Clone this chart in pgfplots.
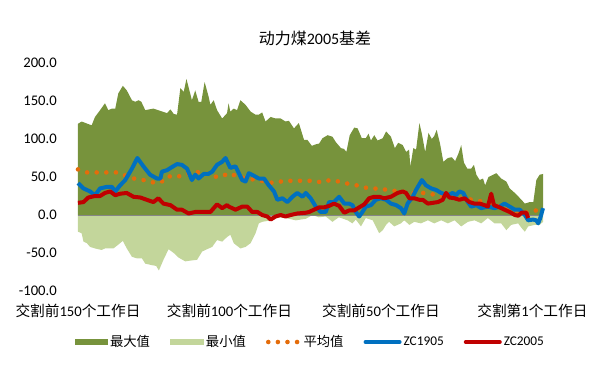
\documentclass[border=0pt]{standalone}
\usepackage{fontspec}
\setmainfont{Carlito}
\newfontfamily\cjk{Noto Sans CJK SC}
\usepackage{pgfplots}
\pgfplotsset{compat=1.18}
\definecolor{maxg}{RGB}{119,147,60}
\definecolor{ming}{RGB}{195,214,155}
\definecolor{avgo}{RGB}{228,108,10}
\definecolor{zcb}{RGB}{0,112,192}
\definecolor{zcr}{RGB}{192,0,0}
\definecolor{zerog}{RGB}{134,134,134}
\begin{document}
\begin{tikzpicture}
\path[use as bounding box] (-78pt,-87pt) rectangle (526pt,291pt);
\begin{axis}[
 scale only axis, width=465pt, height=228pt,
 xmin=0, xmax=153.5, ymin=-100, ymax=200,
 axis line style={draw=none},
 major tick length=0pt,
 xtick={0,50,100,150},
 xticklabels={{\cjk 交割前}150{\cjk 个工作日},{\cjk 交割前}100{\cjk 个工作日},{\cjk 交割前}50{\cjk 个工作日},{\cjk 交割第}1{\cjk 个工作日}},
 ytick={-100,-50,0,50,100,150,200},
 yticklabels={-100.0,-50.0,0.0,50.0,100.0,150.0,200.0},
 tick label style={font=\fontsize{14.67}{17}\selectfont, inner sep=0pt},
 xticklabel style={anchor=center, yshift=-19.5pt},
 yticklabel style={anchor=east, xshift=-21pt},
 clip=false,
 legend columns=5,
 legend style={at={(0.5,-0.2237)}, anchor=center, draw=none, fill=none,
   font=\fontsize{13.33}{15}\selectfont, cells={anchor=west},
   /tikz/every even column/.append style={column sep=18pt}},
]
\addplot[fill=maxg, draw=none, legend image code/.code={\fill[maxg] (0pt,-3pt) rectangle (33pt,3pt);}] coordinates {
(0,0) (0,120) (1.2,123) (4.5,118) (5.6,129) (7.3,138) (8.9,147) (10,138) (11.2,140) (12.3,140) (13.3,160) (14.8,170) (16.1,164) (17.8,151) (18.9,149) (20,151) (20.9,149) (22.2,138) (24.9,140) (27.2,137) (29.4,134) (30.5,139) (31.6,133) (32.7,132) (33.8,167) (34.9,162) (35.8,179) (36.9,162) (37.6,151) (38.7,164) (39.8,149) (40.7,149) (41.8,175) (43.1,156) (43.7,145) (44.8,151) (45.9,138) (47.6,127) (49.2,134) (49.7,147) (50.3,136) (51.4,140) (52.5,138) (53.6,151) (55.3,145) (57,136) (58.6,132) (59.7,132) (60.8,135) (61.9,123) (63.6,129) (65.2,127) (66.9,127) (68.5,123) (69.6,124) (71.3,114) (72.9,121) (74.6,99) (75.7,99) (77.2,91) (78.5,93) (79.6,94) (80.7,101) (82.4,105) (84,103) (85.1,96) (86.8,88) (87.8,87) (88.6,83) (89.7,105) (91.2,115) (92.3,114) (93.7,101) (95,101) (95.9,107) (96.7,98) (97.8,105) (98.9,98) (100.6,101) (101.7,110) (103.3,103) (104.6,88) (105.7,95) (107.2,92) (108.3,83) (109.3,86) (109.7,64) (110.7,88) (111.6,86) (112.7,121) (113.5,107) (114.6,83) (115.7,108) (116.8,100) (117.6,104) (118.4,112) (119.5,94) (120.6,70) (122.1,75) (123.4,76) (124.5,71) (125.6,81) (126.5,92) (127.4,69) (128.5,61) (129.8,61) (130.7,66) (131.5,53) (132.6,46) (133.7,48) (134.4,39) (135.5,50) (138.1,55) (139.7,48) (141.4,44) (142.5,35) (144.2,29) (146.4,20) (147.5,15) (149.1,17) (150.3,17) (151.3,46) (152.4,53) (153.5,54) (153.5,0)
} \closedcycle;
\addlegendentry{{\cjk 最大值}}
\addplot[fill=ming, draw=none, legend image code/.code={\fill[ming] (0pt,-3pt) rectangle (34pt,3pt);}] coordinates {
(0,0) (0,-22) (1.2,-24) (1.8,-35) (2.9,-37) (4,-42) (5.6,-44) (7.8,-46) (8.9,-44) (10,-44) (11.7,-44) (13.3,-39) (14.8,-34) (16.1,-44) (17.8,-55) (19.4,-57) (21.1,-57) (22.2,-64) (24.4,-66) (25.8,-67) (26.7,-73) (28.2,-59) (29.9,-45) (31.6,-50) (33.2,-56) (35.4,-61) (37.1,-60) (39.3,-59) (41,-48) (42.6,-45) (44.3,-42) (45.9,-33) (47.6,-35) (49.2,-29) (50.3,-26) (51.4,-37) (53.6,-44) (55.3,-42) (57,-37) (58.6,-24) (59.7,-11) (60.8,-9) (63.6,-7) (66.2,-3) (68.5,-4) (71.9,-7) (75.2,-5) (77.4,0) (79.5,-3) (81.8,-2) (84,-9) (86.1,-3) (89,-7) (90.6,-11) (91.7,-6) (93.4,-15) (95,-4) (97.3,-7) (99.4,-24) (100.6,-20) (101.7,-13) (102.7,-9) (104.4,-15) (106.6,-11) (107.7,-7) (109.4,-13) (111,-9) (113.2,-11) (115.5,-7) (117.6,-11) (119.9,-7) (122.1,-11) (124.3,-7) (126.5,-15) (128.7,-9) (130.9,-7) (133.1,-11) (135.3,-4) (137.5,-11) (139.7,-11) (141.4,-20) (143,-13) (145.3,-11) (146.4,-17) (147.5,-22) (148.6,-15) (150.8,-13) (152.4,-13) (153.5,-9) (153.5,0)
} \closedcycle;
\addlegendentry{{\cjk 最小值}}
\addplot[zerog, line width=1pt, forget plot] coordinates {(0,0) (153.5,0)};
\addplot[avgo, line width=4.6pt, line cap=round, dash pattern=on 0pt off 9.6pt,
  legend image code/.code={\draw[avgo, line width=4.6pt, line cap=round, dash pattern=on 0pt off 9.6pt] (2pt,0pt) -- (33pt,0pt);}] coordinates {
(0,60) (3,56) (6.3,56) (9.6,56) (12.7,56) (15.6,52) (18.5,48) (21.6,46) (24.7,43) (27.4,43) (29.6,51) (32.5,50) (35.2,53) (38.2,56) (41.2,57) (43.9,51) (46.9,50) (49.9,55) (53.1,50) (56,48) (59,46) (62,44) (64.7,42) (68,45) (71,45) (74,45) (77.2,45) (80.5,43) (83.2,46) (86.2,44) (89.3,41) (92,39) (94.8,36) (97.6,35) (100.6,34) (103.9,32) (106.6,31) (110,29) (115.2,29) (118.2,26) (119.5,25) (125,22) (131,20) (137,14) (143,7) (145.8,4) (149,3) (151.9,7) (153.5,8)
};
\addlegendentry{{\cjk 平均值}}
\addplot[zcb, line width=4pt, line join=round,
  legend image code/.code={\draw[zcb, line width=4pt, line cap=round] (2pt,0pt) -- (36pt,0pt);}] coordinates {
(0,42) (1.8,35) (4,31) (5.6,26) (7.3,35) (9.5,37) (11.2,37) (12.3,31) (13.9,39) (15.6,46) (17.8,61) (19.6,75) (21.6,64) (23.8,53) (26.1,48) (27.2,48) (27.7,57) (29.4,59) (31,63) (32.7,67) (34.3,66) (36,61) (37.6,46) (38.7,53) (39.8,48) (41.5,54) (43,54) (44.3,57) (45.9,66) (47.6,70) (48.7,75) (50.3,62) (52,64) (54.2,46) (55.3,44) (56.4,55) (57.9,52) (59.7,48) (61.4,48) (63,39) (64.7,31) (65.8,20) (67.5,22) (69.1,17) (70.8,24) (72.4,29) (74.1,24) (75.2,29) (76.8,22) (78.5,11) (80.1,4) (81.8,4) (82.9,17) (84.5,17) (86.2,24) (87.9,15) (89.4,15) (90.6,13) (91.7,4) (92.8,-2) (93.9,4) (95,11) (96.7,13) (98.3,20) (100,22) (101.7,20) (103.3,15) (105,13) (106.6,9) (107.7,2) (108.8,15) (110.5,24) (111.6,33) (113.5,46) (114.9,39) (116.6,35) (118.2,33) (119.9,29) (122.1,26) (123.7,29) (124.8,26) (125.9,31) (127.2,29) (128.7,17) (129.8,11) (131.5,13) (133.1,9) (135.3,11) (137.5,9) (139.1,11) (140.8,15) (142.5,11) (144.2,7) (145.8,7) (147.5,0) (148.6,-7) (150.2,-6) (151.3,-7) (151.9,-11) (152.6,-4) (153.5,9)
};
\addlegendentry{ZC1905}
\addplot[zcr, line width=4pt, line join=round,
  legend image code/.code={\draw[zcr, line width=4pt, line cap=round] (2pt,0pt) -- (36pt,0pt);}] coordinates {
(0,16) (1.8,17) (3.4,23) (5.6,25) (7.3,25) (8.9,29) (10.6,31) (12.3,26) (13.9,28) (16.1,29) (18.3,24) (20.6,23) (22.7,20) (24.9,17) (26.5,22) (28.2,15) (30.5,13) (32.7,7) (34.3,7) (36.5,2) (38.7,4) (41.5,4) (43.7,4) (45.9,14) (47.6,9) (49.2,13) (49.8,11) (52,7) (54.2,11) (55.9,11) (57.5,4) (59.2,4) (60.8,0) (62.5,-2) (63.6,-6) (65.2,-2) (66.9,0) (68.5,-2) (70.2,0) (72.4,2) (75.2,3) (76.3,4) (77.9,7) (79.6,10) (81.2,10) (82.9,12) (84.5,15) (86.2,12) (87.9,3) (89.5,6) (91.2,6) (92.8,10) (94.5,14) (96.1,22) (97.8,24) (99.4,24) (101.1,22) (103.3,24) (105.5,29) (107.2,31) (108.3,29) (109.4,22) (111,22) (112.7,20) (113.8,20) (115.5,15) (117.1,16) (118.8,17) (120.4,20) (121.5,29) (122.6,23) (124.3,22) (125.9,20) (127.6,22) (129.2,17) (130.9,15) (132.6,15) (134.2,13) (135.3,11) (136.4,28) (137.3,13) (139.2,10) (140.8,7) (142.5,4) (144.2,0) (145.3,-1) (146.4,3) (148,3) (148.6,-4)
};
\addlegendentry{ZC2005}
\end{axis}
\node[font=\fontsize{16}{19}\selectfont] at (237pt,253pt) {{\cjk 动力煤}2005{\cjk 基差}};
\end{tikzpicture}
\end{document}
